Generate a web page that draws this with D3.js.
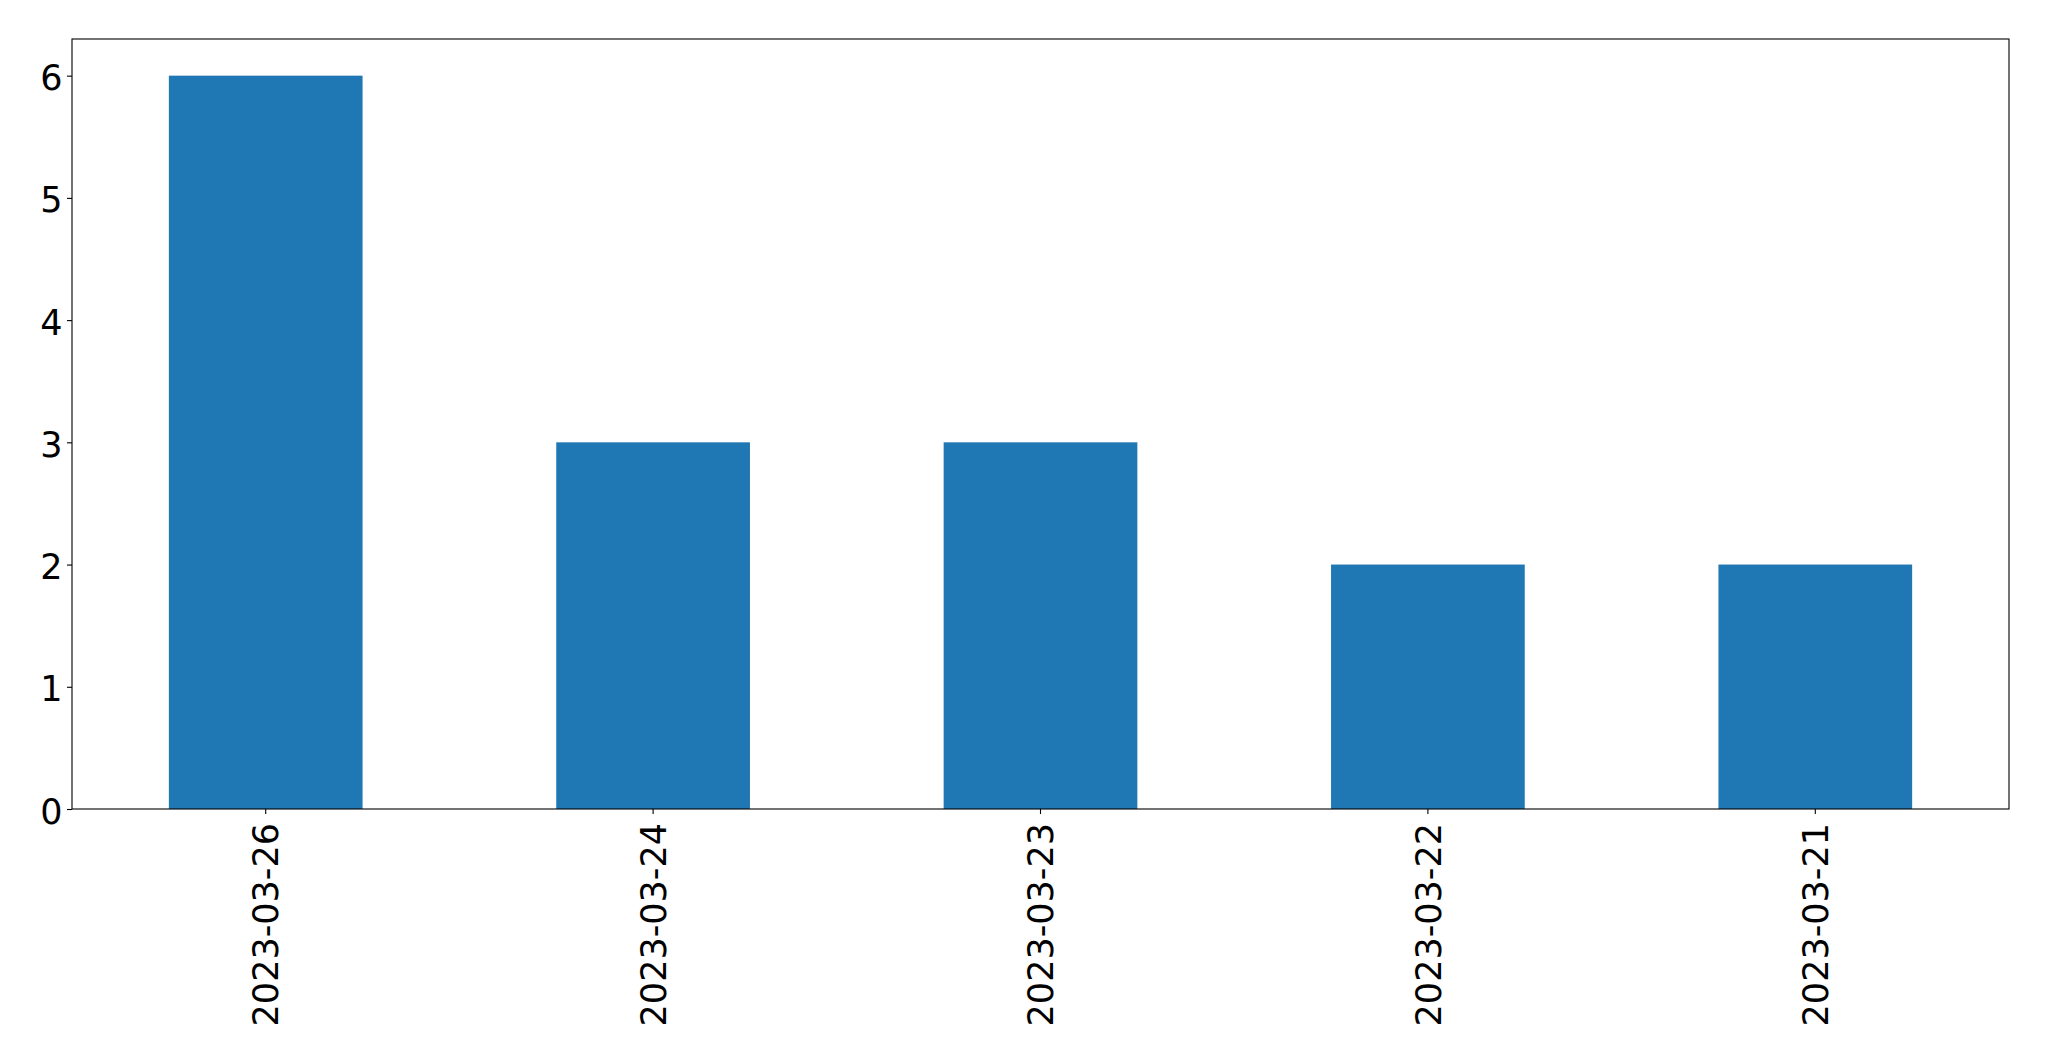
<!DOCTYPE html>
<html>
<head>
<meta charset="utf-8">
<script src="https://cdn.jsdelivr.net/npm/d3@7"></script>
<style>
html,body{margin:0;padding:0;background:#fff;}
svg{display:block;}
</style>
</head>
<body>
<script>
const categories = ["2023-03-26","2023-03-24","2023-03-23","2023-03-22","2023-03-21"];
const values = [6,3,3,2,2];
const yTicks = [0,1,2,3,4,5,6];

(function(){
const W = 2049, H = 1061;
const mLeft = 72, mTop = 39, mRight = 2009, mBottom = 809;

const svg = d3.select("body").append("svg").attr("width", W).attr("height", H);

const x = d3.scaleBand().domain(categories).range([mLeft, mRight]).paddingInner(0.5).paddingOuter(0.25);
const y = d3.scaleLinear().domain([0, 6.3]).range([mBottom, mTop]);

svg.append("g").selectAll("rect").data(values).join("rect")
  .attr("x", (d,i) => x(categories[i]))
  .attr("width", x.bandwidth())
  .attr("y", d => y(d))
  .attr("height", d => y(0) - y(d))
  .attr("fill", "#1f77b4");

const fontFam = "'DejaVu Sans', sans-serif";

const yAxis = svg.append("g").attr("transform", `translate(${mLeft},0)`)
  .call(d3.axisLeft(y).tickValues(yTicks).tickFormat(d3.format("d")).tickSize(5).tickPadding(4.5));
yAxis.select(".domain").remove();
yAxis.selectAll("line").attr("stroke", "#000").attr("stroke-width", 1.1);
yAxis.selectAll("text").attr("font-family", fontFam).attr("font-size", 35).attr("fill", "#000").attr("dy", "0.4em");

const xAxis = svg.append("g").attr("transform", `translate(0,${mBottom})`)
  .call(d3.axisBottom(x).tickSize(5).tickPadding(0));
xAxis.select(".domain").remove();
xAxis.selectAll("line").attr("stroke", "#000").attr("stroke-width", 1.1);
xAxis.selectAll("text")
  .attr("font-family", fontFam).attr("font-size", 35).attr("fill", "#000")
  .attr("text-anchor", "end")
  .attr("transform", "translate(0,14) rotate(-90)")
  .attr("x", 0).attr("y", 0).attr("dy", "0.36em");

svg.append("rect").attr("x", mLeft).attr("y", mTop).attr("width", mRight-mLeft).attr("height", mBottom-mTop)
  .attr("fill", "none").attr("stroke", "#000").attr("stroke-width", 1.1);
})();
</script>
</body>
</html>
